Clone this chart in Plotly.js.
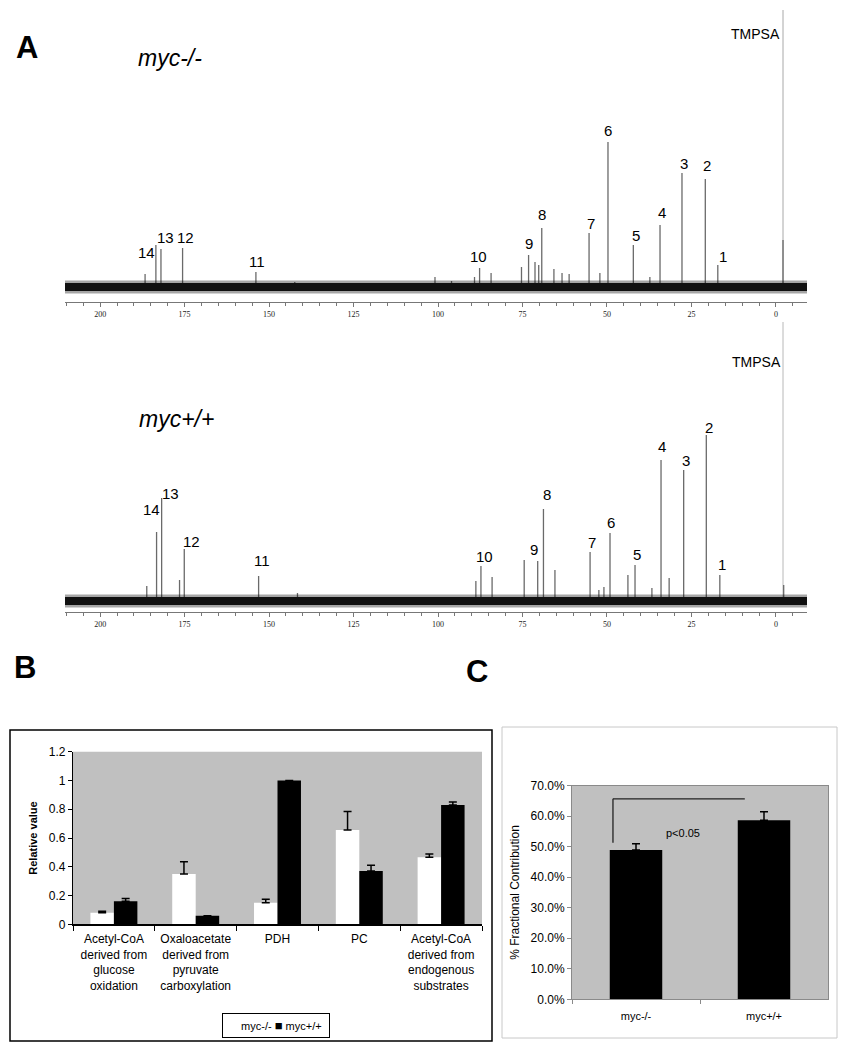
<!DOCTYPE html>
<html><head><meta charset="utf-8">
<script src="https://cdn.plot.ly/plotly-3.0.1.min.js"></script>
<style>html,body{margin:0;padding:0;background:#fff}#chart{width:848px;height:1050px}</style>
</head><body><div id="chart"></div>
<script>
// ---------- Panel A: 13C NMR spectra (ppm, intensity above baseline) ----------
const tmpsaPpm = -2.1;
const tmpsaTopKO = 277;
const tmpsaTopWT = 279;

const peakPpmKO = [17.2, 20.9, 27.8, 34.3, 37.3, 42.2, 49.7, 52.1, 55.3, 61.2, 63.3, 65.7, 69.3, 70.2, 71.3, 73.2, 75.3, 84.3, 87.7, 89.2, 96.0, 100.9, 142.4, 153.9, 175.6, 182.0, 183.5, 186.7, -2.1];
const peakHKO   = [22, 108, 114, 62, 10, 42, 145, 14, 54, 13, 14, 18, 59, 22, 25, 32, 20, 14, 19, 10, 6, 10, 5, 15, 39, 38, 42, 13, 47];

const peakPpmWT = [16.6, 20.6, 27.3, 31.6, 34.0, 36.7, 41.7, 43.8, 49.1, 50.9, 52.4, 55.0, 65.4, 68.8, 70.5, 74.5, 84.0, 87.3, 88.8, 141.6, 153.1, 175.1, 176.5, 181.8, 183.3, 186.2, -2.3];
const peakHWT   = [26, 166, 131, 23, 141, 13, 36, 26, 68, 14, 11, 49, 31, 92, 40, 41, 24, 35, 20, 8, 25, 52, 21, 103, 69, 15, 16];

const basePpm   = [210.4, 150, 135, 120, 105, 95, 80, 60, -9.2];
const baseLevKO = [0, 0, 0.6, 2, 1, 0, 0.4, 0, 0];
const baseLevWT = [0, 0, 0.6, 2, 1, 0, 0.4, 0, 0];

const labelTxt    = ["TMPSA", "1", "2", "3", "4", "5", "6", "7", "8", "9", "10", "11", "12", "13", "14"];
const labelPpmKO  = [5.9, 15.7, 20.4, 27.2, 33.7, 41.4, 49.7, 54.7, 69.2, 73.1, 87.9, 153.6, 174.6, 180.8, 186.4];
const labelYKO    = [253, 30, 121, 123, 74, 51, 156, 63, 72, 43, 30, 25, 49, 49, 34];
const labelPpmWT  = [5.6, 16.0, 19.8, 26.6, 33.7, 41.1, 48.8, 54.4, 67.8, 71.6, 86.1, 152.1, 173.1, 179.3, 184.9];
const labelYWT    = [239, 37, 174, 141, 155, 47, 79, 59, 107, 52, 45, 41, 60, 108, 92];

// ---------- Panel B ----------
const catsB = ["Acetyl-CoA<br>derived from<br>glucose<br>oxidation",
               "Oxaloacetate<br>derived from<br>pyruvate<br>carboxylation",
               "PDH", "PC",
               "Acetyl-CoA<br>derived from<br>endogenous<br>substrates"];
const koB    = [0.08, 0.35, 0.15, 0.655, 0.466];
const koErrB = [0.01, 0.085, 0.025, 0.13, 0.023];
const wtB    = [0.16, 0.06, 1.0, 0.37, 0.83];
const wtErrB = [0.02, 0, 0, 0.04, 0.02];
const legendNames = ["myc-/-", "myc+/+"];

// ---------- Panel C ----------
const catsC   = ["myc-/-", "myc+/+"];
const fracC   = [0.489, 0.587];
const fracErr = [0.021, 0.028];
const bracketX = [-0.18, -0.18, 0.85];
const bracketY = [0.513, 0.657, 0.657];
const pText = "p<0.05";
const pPos  = [0.37, 0.545];

const FONT = "Liberation Sans, Arial, sans-serif";

function sticks(ppm, h) {
  const xs = [], ys = [];
  for (let i = 0; i < ppm.length; i++) { xs.push(ppm[i], ppm[i], null); ys.push(0, h[i], null); }
  return {xs, ys};
}

const sKO = sticks(peakPpmKO, peakHKO);
const sWT = sticks(peakPpmWT, peakHWT);

function spectrumTraces(xa, ya, tTop, tColor, st, lev) {
  return [
    {x: [tmpsaPpm, tmpsaPpm], y: [0, tTop], xaxis: xa, yaxis: ya, mode: 'lines',
     line: {color: tColor, width: 1}, showlegend: false, hoverinfo: 'skip'},
    {x: st.xs, y: st.ys, xaxis: xa, yaxis: ya, mode: 'lines', connectgaps: false,
     line: {color: '#6a6a6a', width: 1.3}, showlegend: false, hoverinfo: 'skip'},
    {x: basePpm, y: lev, xaxis: xa, yaxis: ya, mode: 'lines',
     line: {color: 'rgba(0,0,0,0.35)', width: 13}, showlegend: false, hoverinfo: 'skip'},
    {x: basePpm, y: lev, xaxis: xa, yaxis: ya, mode: 'lines',
     line: {color: '#111', width: 8}, showlegend: false, hoverinfo: 'skip'}
  ];
}

const traces = [].concat(
  spectrumTraces('x', 'y', tmpsaTopKO, '#a8a8a8', sKO, baseLevKO),
  spectrumTraces('x2', 'y2', tmpsaTopWT, '#b8b8b8', sWT, baseLevWT),
  [
  {type: 'bar', name: legendNames[0], x: catsB, y: koB, xaxis: 'x3', yaxis: 'y3', showlegend: false,
   width: 0.287, offset: -0.287, marker: {color: '#ffffff', line: {width: 0}},
   error_y: {type: 'data', array: koErrB, arrayminus: koB.map(() => 0), symmetric: false,
             color: '#000', thickness: 1.5, width: 4}},
  {type: 'bar', name: legendNames[1], x: catsB, y: wtB, xaxis: 'x3', yaxis: 'y3', showlegend: false,
   width: 0.287, offset: 0, marker: {color: '#000000', line: {width: 0}},
   error_y: {type: 'data', array: wtErrB, arrayminus: wtB.map(() => 0), symmetric: false,
             color: '#000', thickness: 1.5, width: 4}},
  {type: 'bar', x: catsC, y: fracC, xaxis: 'x4', yaxis: 'y4', width: 0.41, showlegend: false,
   marker: {color: '#000'},
   error_y: {type: 'data', array: fracErr, arrayminus: fracC.map(() => 0), symmetric: false,
             color: '#000', thickness: 1.5, width: 4}}
  ]
);

const W = 848, H = 1050;
const px = v => v / W, py = v => 1 - v / H;

const specX = {
  domain: [px(65), px(807)], range: [210.4, -9.2], showgrid: false, zeroline: false,
  showline: true, linecolor: '#777', linewidth: 1,
  ticks: 'outside', ticklen: 4, tickcolor: '#777', tick0: 0, dtick: 25,
  minor: {ticks: 'outside', ticklen: 3, dtick: 5, tick0: 0, tickcolor: '#777'},
  tickfont: {family: 'Liberation Serif, serif', size: 8, color: '#222'}
};

const annotations = [];
function addLabels(ppm, yv, xr, yr) {
  for (let i = 0; i < labelTxt.length; i++) {
    annotations.push({x: ppm[i], y: yv[i], xref: xr, yref: yr, text: labelTxt[i], showarrow: false,
      xanchor: 'center', yanchor: 'middle',
      font: {family: FONT, size: labelTxt[i] === 'TMPSA' ? 14 : 15, color: '#000'}});
  }
}
addLabels(labelPpmKO, labelYKO, 'x', 'y');
addLabels(labelPpmWT, labelYWT, 'x2', 'y2');

function paperText(x, y, text, size) {
  return {x: px(x), y: py(y), xref: 'paper', yref: 'paper', text: text, showarrow: false,
    xanchor: 'center', yanchor: 'middle', font: {family: FONT, size: size, color: '#000'}};
}
annotations.push(
  paperText(170, 58, '<i>myc-/-</i>', 23),
  paperText(176, 419, '<i>myc+/+</i>', 23),
  paperText(27, 47, '<b>A</b>', 31),
  paperText(25, 667, '<b>B</b>', 31),
  paperText(477, 671, '<b>C</b>', 31),
  {x: pPos[0], y: pPos[1], xref: 'x4', yref: 'y4', text: pText, showarrow: false,
   xanchor: 'center', yanchor: 'middle', font: {family: FONT, size: 11, color: '#000'}},
  // legend box for panel B (white swatch for myc-/- is invisible on white, as in the original)
  {x: px(276), y: py(1025), xref: 'paper', yref: 'paper', showarrow: false,
   xanchor: 'center', yanchor: 'middle',
   text: '\u2003 ' + legendNames[0] + ' <span style="color:#000;font-size:13px">\u25A0</span> ' + legendNames[1] + ' ',
   bordercolor: '#000', borderwidth: 1, borderpad: 4, bgcolor: '#fff',
   font: {family: FONT, size: 11, color: '#000'}}
);

const shapes = [
  {type: 'rect', xref: 'x3 domain', yref: 'y3 domain', x0: 0, x1: 1, y0: 0, y1: 1,
   fillcolor: '#c0c0c0', line: {width: 0}, layer: 'below'},
  {type: 'rect', xref: 'x4 domain', yref: 'y4 domain', x0: 0, x1: 1, y0: 0, y1: 1,
   fillcolor: '#c0c0c0', line: {width: 0}, layer: 'below'},
  {type: 'rect', xref: 'paper', yref: 'paper', x0: px(10), x1: px(492), y0: py(1041), y1: py(730),
   line: {color: '#000', width: 1.5}, fillcolor: 'rgba(0,0,0,0)'},
  {type: 'rect', xref: 'paper', yref: 'paper', x0: px(502), x1: px(837), y0: py(1038), y1: py(727),
   line: {color: '#c8c8c8', width: 1}, fillcolor: 'rgba(0,0,0,0)'}
];
for (let i = 0; i < bracketX.length - 1; i++) {
  shapes.push({type: 'line', xref: 'x4', yref: 'y4',
    x0: bracketX[i], y0: bracketY[i], x1: bracketX[i + 1], y1: bracketY[i + 1],
    line: {color: '#222', width: 1.3}});
}

const layout = {
  width: W, height: H, margin: {l: 0, r: 0, t: 0, b: 0},
  paper_bgcolor: '#fff', plot_bgcolor: 'rgba(0,0,0,0)',
  font: {family: FONT, color: '#000'},
  barmode: 'overlay', showlegend: false,
  xaxis: Object.assign({}, specX, {anchor: 'y'}),
  yaxis: {domain: [py(302), py(10)], range: [-15, 277], visible: false, anchor: 'x'},
  xaxis2: Object.assign({}, specX, {anchor: 'y2'}),
  yaxis2: {domain: [py(612), py(322)], range: [-11, 279], visible: false, anchor: 'x2'},

  xaxis3: {domain: [px(73), px(482)], anchor: 'y3', type: 'category',
    showline: true, linecolor: '#000', linewidth: 1.2, ticks: 'outside', tickson: 'boundaries',
    ticklen: 5, tickcolor: '#000', showgrid: false, zeroline: false, ticklabelstandoff: 3,
    tickfont: {family: FONT, size: 12, color: '#000'}},
  yaxis3: {domain: [py(924.3), py(751.7)], anchor: 'x3', range: [0, 1.2], dtick: 0.2,
    showline: true, linecolor: '#000', linewidth: 1.2, ticks: 'outside', ticklen: 4,
    tickcolor: '#000', showgrid: false, zeroline: false,
    tickfont: {family: FONT, size: 12, color: '#000'},
    title: {text: '<b>Relative value</b>', font: {family: FONT, size: 11, color: '#000'}, standoff: 8}},

  xaxis4: {domain: [px(572), px(828)], anchor: 'y4', type: 'category', range: [-0.5, 1.5],
    showline: true, mirror: true, linecolor: '#8a8a8a', linewidth: 1, ticks: 'outside',
    tickson: 'boundaries', ticklen: 4, tickcolor: '#8a8a8a', showgrid: false, zeroline: false,
    ticklabelstandoff: 6,
    tickfont: {family: FONT, size: 11, color: '#000'}},
  yaxis4: {domain: [py(999.3), py(785.7)], anchor: 'x4', range: [0, 0.7], dtick: 0.1,
    tickformat: '.1%', showline: true, mirror: true, linecolor: '#8a8a8a', linewidth: 1,
    ticks: 'outside', ticklen: 4, tickcolor: '#8a8a8a', showgrid: false, zeroline: false,
    tickfont: {family: FONT, size: 12, color: '#000'},
    title: {text: '% Fractional Contribution', font: {family: FONT, size: 12, color: '#000'}, standoff: 8}},

  annotations: annotations,
  shapes: shapes
};

Plotly.newPlot('chart', traces, layout, {staticPlot: true, displayModeBar: false});
</script></body></html>
